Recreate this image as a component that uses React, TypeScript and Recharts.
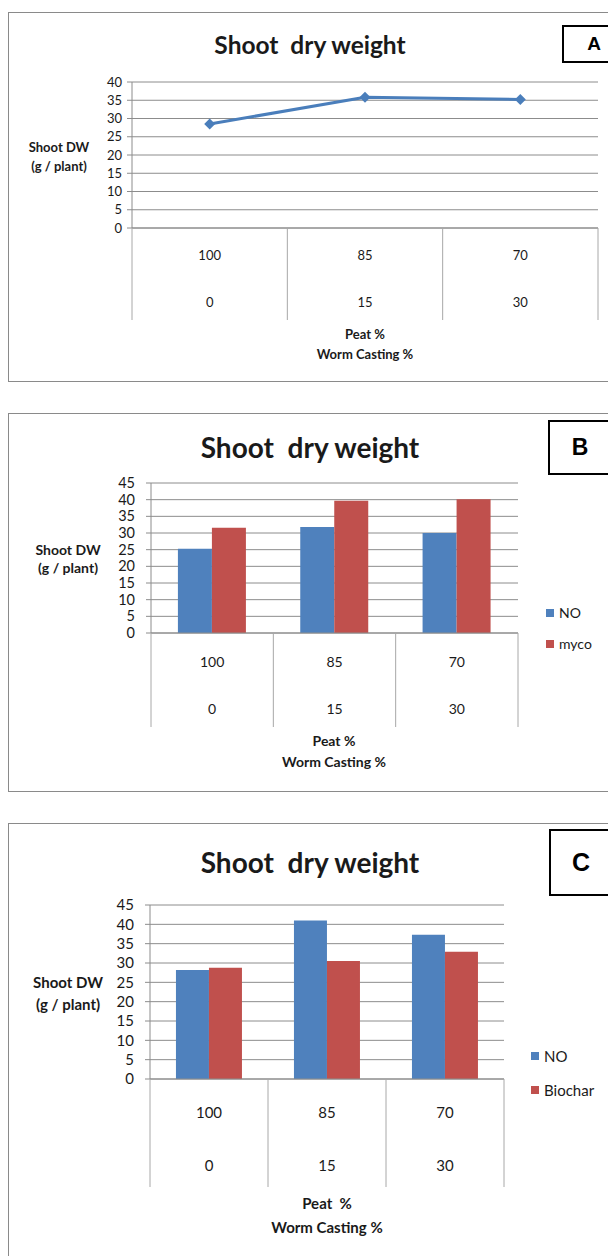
import React from 'react';
import { LineChart, Line, BarChart, Bar, XAxis, YAxis, CartesianGrid } from 'recharts';

// categories (two-level axis: peat % over worm casting %)
const peat = ['100', '85', '70'];
const worm = ['0', '15', '30'];

// A: single treatment
const shootA = [28.5, 35.8, 35.2];
// B: with / without mycorrhiza
const noB = [25.3, 31.8, 30.0];
const mycoB = [31.6, 39.7, 40.1];
// C: with / without biochar
const noC = [28.2, 41.0, 37.3];
const biocharC = [28.8, 30.5, 32.9];

const ticksA = [0, 5, 10, 15, 20, 25, 30, 35, 40];
const ticksBC = [0, 5, 10, 15, 20, 25, 30, 35, 40, 45];

const dataA = peat.map((p, i) => ({ peat: p, shoot: shootA[i] }));
const dataB = peat.map((p, i) => ({ peat: p, NO: noB[i], myco: mycoB[i] }));
const dataC = peat.map((p, i) => ({ peat: p, NO: noC[i], Biochar: biocharC[i] }));

const FONT = 'Lato, "Open Sans", sans-serif';
const GRID = '#8c8c8c';
const SEP = '#a8a8a8';
const BLUE = '#4f81bd';
const RED = '#c0504d';
const LINE = '#4a7ebb';
const TXT = '#1a1a1a';

function makeTick(band: number, dy1: number, dy2: number, sepH: number, fs: number) {
  return (props: any) => {
    const { x, y, payload, index } = props;
    const last = index === peat.length - 1;
    return (
      <g>
        <line x1={x - band / 2} x2={x - band / 2} y1={y} y2={y + sepH} stroke={SEP} />
        {last && <line x1={x + band / 2} x2={x + band / 2} y1={y} y2={y + sepH} stroke={SEP} />}
        <text x={x} y={y + dy1} textAnchor="middle" dominantBaseline="central" fontSize={fs} fill={TXT} fontFamily={FONT}>
          {payload.value}
        </text>
        <text x={x} y={y + dy2} textAnchor="middle" dominantBaseline="central" fontSize={fs} fill={TXT} fontFamily={FONT}>
          {worm[index]}
        </text>
      </g>
    );
  };
}

const Diamond = (p: any) => {
  const { cx, cy, index } = p;
  const r = 5.5;
  return (
    <polygon key={index} points={`${cx},${cy - r} ${cx + r},${cy} ${cx},${cy + r} ${cx - r},${cy}`} fill={LINE} />
  );
};

function Txt({ x, y, children, size, bold, anchor = 'center', family = FONT }: any) {
  const tx = anchor === 'center' ? '-50%' : '0';
  return (
    <div
      style={{
        position: 'absolute', left: x, top: y, transform: `translate(${tx}, -50%)`,
        fontSize: size, fontWeight: bold ? 700 : 400, fontFamily: family, color: TXT,
        whiteSpace: 'pre', lineHeight: 1,
      }}
    >
      {children}
    </div>
  );
}

function Frame({ top, height }: any) {
  return <div style={{ position: 'absolute', left: 8, top, width: 640, height, border: '1px solid #8a8a8a', boxSizing: 'border-box' }} />;
}

function Box({ left, top, height, size, label }: any) {
  return (
    <div
      style={{
        position: 'absolute', left, top, width: 70, height, border: '2px solid #000', boxSizing: 'border-box',
        background: '#fff',
      }}
    >
      <div style={{ position: 'absolute', left: 0, width: 60, top: 0, height: height - 4, display: 'flex', alignItems: 'center', justifyContent: 'center', fontFamily: '"Liberation Sans", Arial, sans-serif', fontWeight: 700, fontSize: size }}>
        {label}
      </div>
    </div>
  );
}

function LegendItem({ x, y, color, label, size }: any) {
  return (
    <>
      <div style={{ position: 'absolute', left: x, top: y - 4, width: 8, height: 8, background: color }} />
      <Txt x={x + 13} y={y} size={size} anchor="left">{label}</Txt>
    </>
  );
}

const yTick = (fs: number) => ({ fontSize: fs, fill: TXT, fontFamily: FONT });

export default function App() {
  const bandA = 466 / 3;
  const bandB = 367 / 3;
  const bandC = 354 / 3;
  return (
    <div style={{ position: 'fixed', left: 0, top: 0, width: 608, height: 1256, overflow: 'hidden', background: '#fff' }}>
      {/* Panel A */}
      <Frame top={12} height={370} />
      <div style={{ position: 'absolute', left: 8, top: 12 }}>
        <LineChart width={600} height={370} data={dataA} margin={{ top: 70, right: 10, bottom: 62, left: 0 }}>
          <CartesianGrid vertical={false} stroke={GRID} />
          <XAxis
            dataKey="peat" height={92} interval={0} tickSize={0} tickMargin={0} tickLine={false}
            axisLine={{ stroke: GRID }} padding={{ left: bandA / 2, right: bandA / 2 }}
            tick={makeTick(bandA, 27, 74, 92, 13)}
          />
          <YAxis
            width={124} domain={[0, 40]} ticks={ticksA} interval={0} tickSize={5} tickMargin={5}
            axisLine={{ stroke: GRID }} tickLine={{ stroke: GRID }} tick={yTick(13)}
          />
          <Line dataKey="shoot" stroke={LINE} strokeWidth={3} dot={Diamond} isAnimationActive={false} />
        </LineChart>
      </div>
      <Txt x={310} y={45} size={24.5} bold>{'Shoot  dry weight'}</Txt>
      <Box left={562} top={25} height={38} size={19} label="A" />
      <Txt x={59} y={147} size={13} bold>Shoot DW</Txt>
      <Txt x={59} y={166} size={13} bold>(g / plant)</Txt>
      <Txt x={365} y={334} size={13} bold>Peat %</Txt>
      <Txt x={365} y={354} size={13} bold>Worm Casting %</Txt>

      {/* Panel B */}
      <Frame top={413} height={379} />
      <div style={{ position: 'absolute', left: 8, top: 413 }}>
        <BarChart width={600} height={379} data={dataB} margin={{ top: 70, right: 90, bottom: 65, left: 0 }} barCategoryGap="22%" barGap={0}>
          <CartesianGrid vertical={false} stroke={GRID} />
          <XAxis
            dataKey="peat" height={94} interval={0} tickSize={0} tickMargin={0} tickLine={false}
            axisLine={{ stroke: GRID }} tick={makeTick(bandB, 28, 75, 94, 14)}
          />
          <YAxis
            width={143} domain={[0, 45]} ticks={ticksBC} interval={0} tickSize={5} tickMargin={11}
            axisLine={{ stroke: GRID }} tickLine={{ stroke: GRID }} tick={yTick(14.5)}
          />
          <Bar dataKey="NO" fill={BLUE} isAnimationActive={false} />
          <Bar dataKey="myco" fill={RED} isAnimationActive={false} />
        </BarChart>
      </div>
      <Txt x={310} y={447} size={28} bold>{'Shoot  dry weight'}</Txt>
      <Box left={548} top={420} height={55} size={23} label="B" />
      <Txt x={68} y={550} size={14} bold>Shoot DW</Txt>
      <Txt x={68} y={568} size={14} bold>(g / plant)</Txt>
      <Txt x={334} y={741} size={14} bold>Peat %</Txt>
      <Txt x={334} y={762} size={14} bold>Worm Casting %</Txt>
      <LegendItem x={546} y={613} color={BLUE} label="NO" size={14} />
      <LegendItem x={546} y={644} color={RED} label="myco" size={14} />

      {/* Panel C */}
      <Frame top={823} height={500} />
      <div style={{ position: 'absolute', left: 8, top: 823 }}>
        <BarChart width={600} height={433} data={dataC} margin={{ top: 82, right: 104, bottom: 69, left: 0 }} barCategoryGap="22%" barGap={0}>
          <CartesianGrid vertical={false} stroke={GRID} />
          <XAxis
            dataKey="peat" height={108} interval={0} tickSize={0} tickMargin={0} tickLine={false}
            axisLine={{ stroke: GRID }} tick={makeTick(bandC, 33, 86, 108, 15)}
          />
          <YAxis
            width={142} domain={[0, 45]} ticks={ticksBC} interval={0} tickSize={5} tickMargin={11}
            axisLine={{ stroke: GRID }} tickLine={{ stroke: GRID }} tick={yTick(15)}
          />
          <Bar dataKey="NO" fill={BLUE} isAnimationActive={false} />
          <Bar dataKey="Biochar" fill={RED} isAnimationActive={false} />
        </BarChart>
      </div>
      <Txt x={310} y={862} size={28} bold>{'Shoot  dry weight'}</Txt>
      <Box left={549} top={829} height={67} size={25} label="C" />
      <Txt x={68} y={982} size={15} bold>Shoot DW</Txt>
      <Txt x={68} y={1004} size={15} bold>(g / plant)</Txt>
      <Txt x={327} y={1203} size={15} bold>{'Peat  %'}</Txt>
      <Txt x={327} y={1227} size={15} bold>Worm Casting %</Txt>
      <LegendItem x={531} y={1056} color={BLUE} label="NO" size={15} />
      <LegendItem x={531} y={1090} color={RED} label="Biochar" size={15} />
    </div>
  );
}
